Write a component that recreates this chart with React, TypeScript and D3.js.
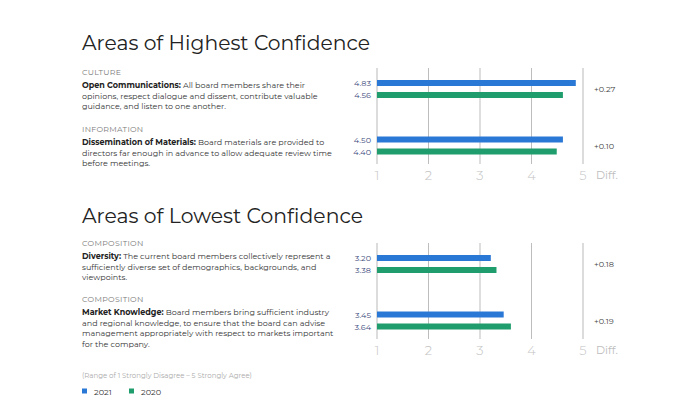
import React from "react";
import * as d3 from "d3";

const sectionTitles = ["Areas of Highest Confidence", "Areas of Lowest Confidence"];
const itemSection = [0, 0, 1, 1];
const itemCategories = ["CULTURE", "INFORMATION", "COMPOSITION", "COMPOSITION"];
const itemHeadings = ["Open Communications:", "Dissemination of Materials:", "Diversity:", "Market Knowledge:"];
const itemLines = [
  [" All board members share their", "opinions, respect dialogue and dissent, contribute valuable", "guidance, and listen to one another."],
  [" Board materials are provided to", "directors far enough in advance to allow adequate review time", "before meetings."],
  [" The current board members collectively represent a", "sufficiently diverse set of demographics, backgrounds, and", "viewpoints."],
  [" Board members bring sufficient industry", "and regional knowledge, to ensure that the board can advise", "management appropriately with respect to markets important", "for the company."],
];
const values2021 = [4.86, 4.61, 3.21, 3.46];
const values2020 = [4.61, 4.49, 3.32, 3.6];
const labels2021 = ["4.83", "4.50", "3.20", "3.45"];
const labels2020 = ["4.56", "4.40", "3.38", "3.64"];
const diffs = ["+0.27", "+0.10", "+0.18", "+0.19"];
const ticks = [1, 2, 3, 4, 5];
const seriesNames = ["2021", "2020"];
const seriesColors = ["#2a78d6", "#1f9d6c"];
const rangeNote = "(Range of 1 Strongly Disagree \u2013 5 Strongly Agree)";

const FONT = "Montserrat, 'Open Sans', sans-serif";

export default function App() {
  const W = 698, H = 420;
  const x = d3.scaleLinear().domain([1, 5]).range([377, 583]);
  const sectionTop = [68, 243];
  const titleY = [50, 223];
  const catY = [[72, 129], [243, 299]];
  const gridH = 96;

  return (
    <svg width={W} height={H} style={{ position: "absolute", left: 0, top: 0, fontFamily: FONT }}>
      <rect width={W} height={H} fill="#fff" />
      {sectionTitles.map((t, s) => {
        const top = sectionTop[s];
        const y = d3.scalePoint<number>().domain([0, 1]).range([top + 21, top + 21 + 56.5]);
        const items = itemSection.map((sec, i) => ({ sec, i })).filter((d) => d.sec === s).map((d) => d.i);
        return (
          <g key={s}>
            <text x={82} y={titleY[s]} fontSize={21} fill="#222" textLength={s === 0 ? 288 : 281} lengthAdjust="spacingAndGlyphs">{t}</text>
            {ticks.map((tk) => {
              const edge = tk === 1 || tk === 5;
              return (
                <g key={tk}>
                  <line x1={x(tk)} x2={x(tk)} y1={top} y2={top + gridH} stroke={edge ? "#dcdcdc" : "#bdbdbd"} strokeWidth={edge ? 2 : 1} />
                  <text x={x(tk)} y={top + gridH + 11} fontSize={13} fill="#c4c4c4" textAnchor="middle" dominantBaseline="central" fontWeight={300}>{tk}</text>
                </g>
              );
            })}
            <text x={596} y={top + gridH + 11} fontSize={11} fill="#bdbdbd" dominantBaseline="central">Diff.</text>
            {items.map((i, k) => {
              const cy = y(k)!;
              const cTop = catY[s][k];
              return (
                <g key={i}>
                  <text x={82} y={cTop} fontSize={7.8} fill="#7a7a7a" dominantBaseline="central" letterSpacing={0.3}>{itemCategories[i]}</text>
                  {itemLines[i].map((ln, j) => (
                    <text key={j} x={82} y={cTop + 13 + j * 10.5} fontSize={8} fill="#333" dominantBaseline="central">
                      {j === 0 && <tspan fontWeight={700} fill="#222">{itemHeadings[i]}</tspan>}
                      {ln}
                    </text>
                  ))}
                  {[values2021[i], values2020[i]].map((v, si) => (
                    <g key={si}>
                      <rect x={x(1)} y={cy - 9 + si * 12} width={x(v) - x(1)} height={6} fill={seriesColors[si]} />
                      <text x={371} y={cy - 6 + si * 12} fontSize={8.1} fill="#3b4a7c" textAnchor="end" dominantBaseline="central">{si === 0 ? labels2021[i] : labels2020[i]}</text>
                    </g>
                  ))}
                  <text x={594} y={cy} fontSize={8.2} fill="#444" dominantBaseline="central">{diffs[i]}</text>
                </g>
              );
            })}
          </g>
        );
      })}
      <text x={82} y={375} fontSize={7} fill="#aaa" dominantBaseline="central">{rangeNote}</text>
      {seriesNames.map((n, i) => (
        <g key={n} transform={`translate(${82 + i * 47},388.5)`}>
          <rect x={0} y={0} width={5} height={5} fill={seriesColors[i]} />
          <text x={12} y={3} fontSize={8.2} fill="#333" dominantBaseline="central">{n}</text>
        </g>
      ))}
    </svg>
  );
}
